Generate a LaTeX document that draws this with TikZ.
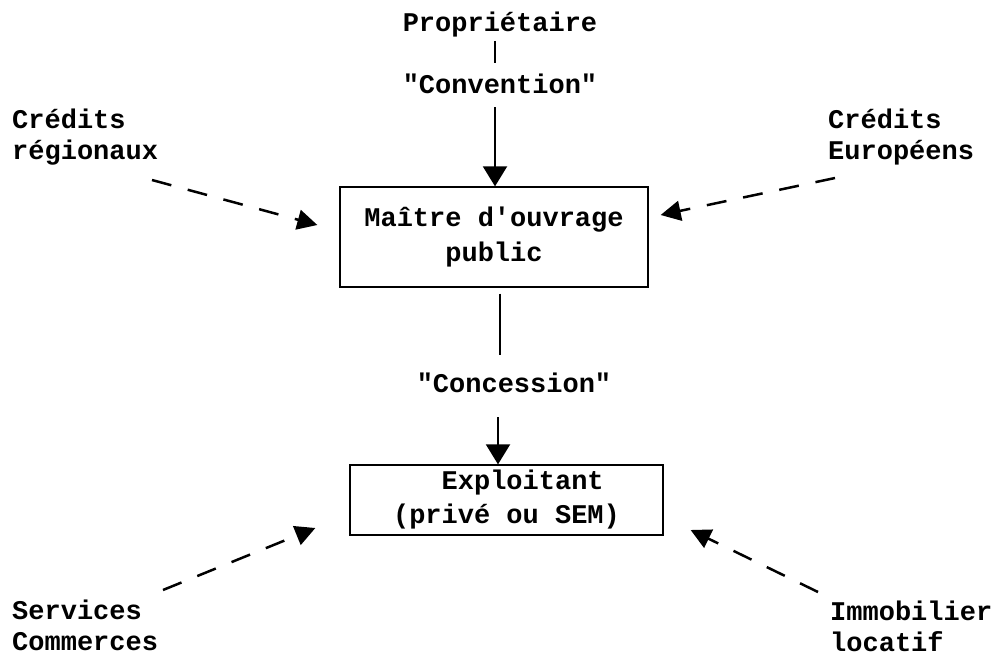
\documentclass[tikz,border=0pt]{standalone}
\usepackage{fontspec}
\setmonofont{Liberation Mono}
\usetikzlibrary{arrows.meta}
\begin{document}
\begin{tikzpicture}[x=1pt,y=-1pt,
  every node/.style={font=\ttfamily\bfseries\fontsize{27}{31}\selectfont},
  lbl/.style={inner sep=0pt, align=left},
  ctr/.style={inner sep=4pt},
  boxnode/.style={draw, line width=1.3pt, align=center, inner sep=0pt},
  plainline/.style={line width=2pt},
  mainarr/.style={line width=2pt, -{Triangle[width=24pt,length=20pt]}},
  dasharr/.style={line width=2.5pt, dash pattern=on 20pt off 17pt, -{Triangle[width=20pt,length=20pt]}}]
\useasboundingbox (0,0) rectangle (997,656);
\fill[white] (0,0) rectangle (997,656);

% central chain
\node[ctr, anchor=base] (prop) at (500,31) {Propriétaire};
\node[ctr, anchor=base] (conv) at (500,93) {"Convention"};
\node[boxnode, minimum width=308pt, minimum height=100pt,
      font=\ttfamily\bfseries\fontsize{27}{35}\selectfont] (box1) at (494,237) {Maître d'ouvrage\\public};
\node[ctr, anchor=base] (conc) at (514,392) {"Concession"};
\node[boxnode, minimum width=313pt, minimum height=70pt,
      font=\ttfamily\bfseries\fontsize{27}{34}\selectfont] (box2) at (506.5,500) {\hphantom{MM}Exploitant\\(privé ou SEM)};

% side labels
\node[lbl, anchor=north west] (creg) at (12,109) {Crédits\\régionaux};
\node[lbl, anchor=north west] (ceur) at (828,109) {Crédits\\Européens};
\node[lbl, anchor=north west] (serv) at (12,600) {Services\\Commerces};
\node[lbl, anchor=north west] (immo) at (830,601) {Immobilier\\locatif};

% free ends of dashed connectors
\coordinate (s1) at (152,180);
\coordinate (s2) at (835,178);
\coordinate (s3) at (163,590);
\coordinate (s4) at (818,592);

% main connectors
\draw[plainline, shorten >=6pt] ([xshift=-5pt]prop.south) -- ([xshift=-5pt]conv.north);
\draw[mainarr, shorten <=10pt] ([xshift=-5pt]conv.south) -- ([xshift=-5pt]conv.south |- box1.north);
\draw[plainline, shorten <=6pt, shorten >=13pt] ([xshift=6pt]box1.south) -- ([xshift=6pt]box1.south |- conc.north);
\draw[mainarr, shorten <=21pt] ([xshift=-16pt]conc.south) -- ([xshift=-16pt]conc.south |- box2.north);

% dashed connectors
\draw[dasharr] (s1) -- ([xshift=-22pt,yshift=12pt]box1.west);
\draw[dasharr] (s2) -- ([xshift=12pt,yshift=22pt]box1.east);
\draw[dasharr] (s3) -- ([xshift=-34pt,yshift=-28pt]box2.west);
\draw[dasharr] (s4) -- ([xshift=27pt,yshift=-30pt]box2.east);
\end{tikzpicture}
\end{document}
